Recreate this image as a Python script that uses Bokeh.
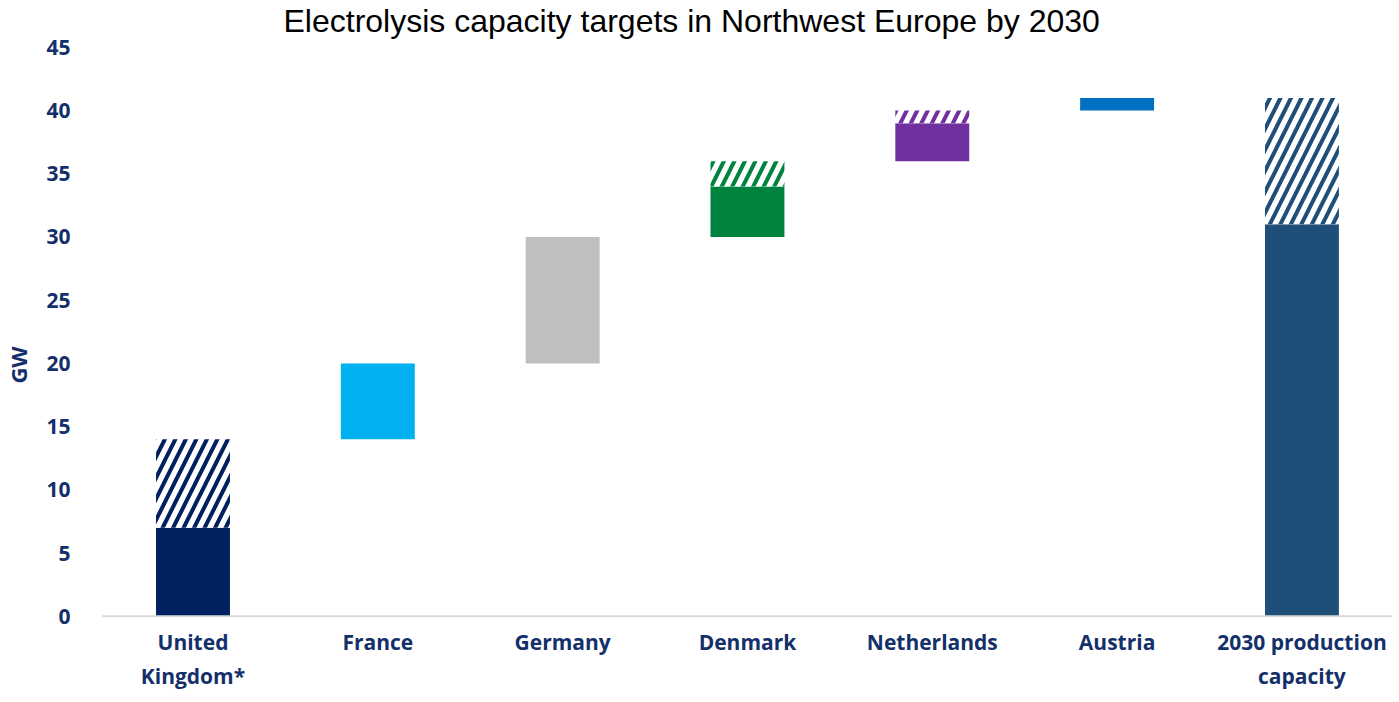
from bokeh.plotting import figure
from bokeh.models import FixedTicker, Range1d, Span
from bokeh.core.properties import value
from bokeh.embed import file_html
from bokeh.resources import INLINE

# ---- data ----
categories = ["United\nKingdom*", "France", "Germany", "Denmark", "Netherlands", "Austria", "2030 production\ncapacity"]
solid_bottom = [0, 14, 20, 30, 36, 40, 0]
solid_top = [7, 20, 30, 34, 39, 41, 31]
hatch_bottom = [7, 20, 30, 34, 39, 41, 31]
hatch_top = [14, 20, 30, 36, 40, 41, 41]
colors = ["#002060", "#00B0F0", "#BFBFBF", "#00833E", "#7030A0", "#0070C0", "#1F4E79"]
y_ticks = [0, 5, 10, 15, 20, 25, 30, 35, 40, 45]

label_color = "#14306A"
font = "Open Sans"

x = list(range(len(categories)))
p = figure(frame_width=1291, frame_height=653, output_backend="svg", toolbar_location=None,
           x_range=Range1d(-0.495, 6.49), y_range=Range1d(-5.95, 45.7),
           min_border_left=92, min_border_right=0, min_border_top=33, min_border_bottom=0,
           title="Electrolysis capacity targets in Northwest Europe by 2030")
p.outline_line_color = None
p.grid.grid_line_color = None
p.background_fill_color = "white"

p.title.text_font = "Liberation Sans"
p.title.text_font_size = "32px"
p.title.text_font_style = "normal"
p.title.text_color = "black"
p.title.align = "left"
p.title.offset = 182
p.title.standoff = 0

p.vbar(x=x, bottom=solid_bottom, top=solid_top, width=0.4, fill_color=colors, line_color=None)

hx = [i for i in x if hatch_top[i] > hatch_bottom[i]]
p.vbar(x=hx, bottom=[hatch_bottom[i] for i in hx], top=[hatch_top[i] for i in hx], width=0.4,
       fill_color="white", line_color=None, hatch_pattern="/",
       hatch_color=[colors[i] for i in hx], hatch_scale=21, hatch_weight=4)

# category axis line and labels
p.add_layout(Span(location=0, dimension="width", line_color="#D9D9D9", line_width=2))
p.text(x=x, y=[0] * len(x), text=categories, y_offset=12,
       text_font=value(font), text_font_style="bold", text_font_size="21px",
       text_color=label_color, text_align="center", text_baseline="top",
       text_line_height=1.2)
p.xaxis.visible = False

# y axis
ya = p.yaxis[0]
ya.ticker = FixedTicker(ticks=y_ticks)
ya.axis_line_color = None
ya.major_tick_line_color = None
ya.minor_tick_line_color = None
ya.major_label_standoff = 25
ya.major_label_text_font = font
ya.major_label_text_font_style = "bold"
ya.major_label_text_font_size = "21px"
ya.major_label_text_color = label_color
ya.axis_label = "GW"
ya.axis_label_text_font = font
ya.axis_label_text_font_style = "bold"
ya.axis_label_text_font_size = "22px"
ya.axis_label_text_color = label_color
ya.axis_label_standoff = 10

open("out.html", "w").write(file_html(p, INLINE))
